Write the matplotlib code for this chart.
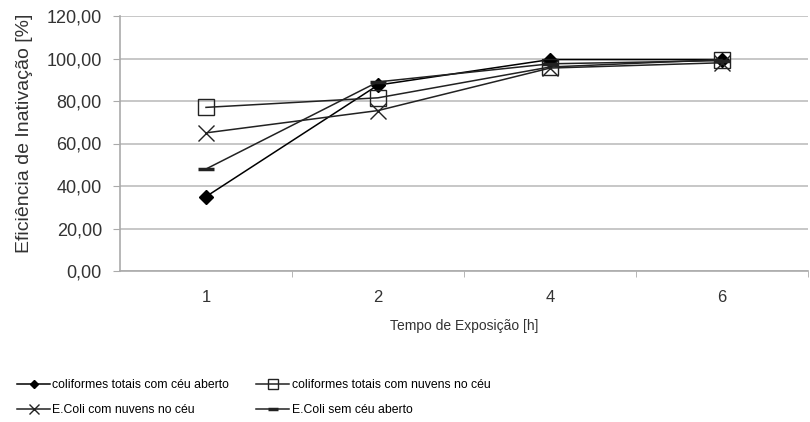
import numpy as np
import matplotlib
matplotlib.use("Agg")
import matplotlib.pyplot as plt
from matplotlib.ticker import FixedLocator, FuncFormatter

plt.rcParams['font.family'] = ['Liberation Sans', 'DejaVu Sans']

tempos = ['1', '2', '4', '6']
coli_aberto = [35.0, 87.5, 99.5, 99.5]
coli_nuvens = [77.0, 81.5, 96.0, 99.5]
ecoli_nuvens = [65.0, 75.5, 95.5, 98.0]
ecoli_aberto = [48.0, 89.0, 97.5, 99.0]

x = np.arange(len(tempos))

fig = plt.figure(figsize=(8.1, 4.22), dpi=100)
ax = fig.add_axes([120 / 810, 1 - 271 / 422, 688 / 810, 255 / 422])

l1, = ax.plot(x, coli_aberto, color='black', lw=1.1, marker='D', ms=7,
              label='coliformes totais com céu aberto')
l2, = ax.plot(x, coli_nuvens, color='#222222', lw=1.1, marker='s', ms=11,
              mfc='none', mew=1.0, label='coliformes totais com nuvens no céu')
l3, = ax.plot(x, ecoli_nuvens, color='#222222', lw=1.1, marker='x', ms=11,
              mew=1.0, label='E.Coli com nuvens no céu')
l4, = ax.plot(x, ecoli_aberto, color='#222222', lw=1.1, marker='_', ms=12,
              mew=2.5, label='E.Coli sem céu aberto')

ax.set_xlim(-0.5, 3.5)
ax.set_ylim(0, 120)
ax.set_yticks(np.arange(0, 121, 20))
ax.yaxis.set_major_formatter(FuncFormatter(lambda v, p: f'{v:.2f}'.replace('.', ',')))
ax.set_xticks(x)
ax.set_xticklabels(tempos)
ax.xaxis.set_minor_locator(FixedLocator([0.5, 1.5, 2.5, 3.5]))
ax.tick_params(axis='x', which='major', length=0, pad=14, labelsize=12, colors='#333333')
ax.tick_params(axis='x', which='minor', length=4, color='#aaaaaa')
ax.tick_params(axis='y', length=5, pad=8, color='#aaaaaa', labelsize=13, labelcolor='#333333')

ax.grid(axis='y', color='#bdbdbd', lw=1.2)
ax.set_axisbelow(True)
for s in ['top', 'right']:
    ax.spines[s].set_visible(False)
for s in ['left', 'bottom']:
    ax.spines[s].set_color('#aaaaaa')
    ax.spines[s].set_linewidth(1.2)

ax.set_xlabel('Tempo de Exposição [h]', fontsize=10, color='#333333', labelpad=10)
ax.set_ylabel('Eficiência de Inativação [%]', fontsize=14, color='#333333')
ax.yaxis.set_label_coords(-0.126, 0.54)

fig.legend(handles=[l1, l3, l2, l4], loc='lower left', bbox_to_anchor=(6 / 810, -5 / 422),
           ncol=2, frameon=False, handlelength=2.7, columnspacing=2.2, labelspacing=1.05,
           handletextpad=0.2, markerscale=0.6, fontsize=8.8)

fig.savefig('out.png', dpi=100)
